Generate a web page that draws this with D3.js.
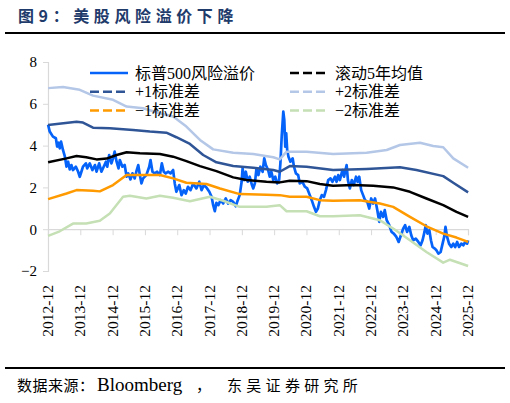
<!DOCTYPE html>
<html><head><meta charset="utf-8">
<script src="https://cdn.jsdelivr.net/npm/d3@7"></script>
<style>
html,body{margin:0;padding:0;background:#fff;}
svg{display:block;}
</style></head>
<body>
<svg id="c" width="510" height="403"></svg>
<script>
// ---- data (decimal year, value) ----
const xTickLabels = ["2012-12","2013-12","2014-12","2015-12","2016-12","2017-12","2018-12","2019-12","2020-12","2021-12","2022-12","2023-12","2024-12","2025-12"];
const yTicks = [-2,0,2,4,6,8];
const seriesNames = ["标普500风险溢价","滚动5年均值","+1标准差","+2标准差","\u22121标准差","\u22122标准差"];

const erp = [[2012.92,5.0],[2012.97,4.67],[2013.07,4.43],[2013.16,4.35],[2013.20,3.95],[2013.24,4.14],[2013.28,3.87],[2013.32,4.19],[2013.38,3.79],[2013.44,3.47],[2013.49,2.99],[2013.54,3.23],[2013.59,2.86],[2013.64,3.07],[2013.69,2.83],[2013.78,2.99],[2013.85,2.75],[2013.90,2.51],[2013.95,2.75],[2014.00,2.99],[2014.09,3.15],[2014.13,2.91],[2014.21,3.15],[2014.29,2.83],[2014.37,3.07],[2014.42,2.75],[2014.50,3.15],[2014.57,2.75],[2014.64,2.99],[2014.71,3.23],[2014.75,2.99],[2014.81,3.55],[2014.88,3.15],[2014.93,3.39],[2014.98,3.71],[2015.04,3.23],[2015.10,2.91],[2015.14,3.31],[2015.22,2.99],[2015.29,3.07],[2015.35,2.51],[2015.40,2.67],[2015.47,2.38],[2015.53,2.67],[2015.60,2.43],[2015.65,2.75],[2015.71,3.07],[2015.76,2.59],[2015.81,2.19],[2015.86,2.43],[2015.96,2.59],[2016.05,2.99],[2016.09,3.31],[2016.15,2.75],[2016.22,2.67],[2016.29,2.75],[2016.38,2.59],[2016.44,3.15],[2016.50,2.75],[2016.56,2.67],[2016.64,2.75],[2016.71,2.67],[2016.79,2.83],[2016.84,2.19],[2016.89,1.79],[2016.98,2.11],[2017.05,1.63],[2017.12,1.87],[2017.18,1.71],[2017.25,2.03],[2017.33,1.87],[2017.41,2.19],[2017.51,1.95],[2017.60,2.27],[2017.67,1.87],[2017.74,2.11],[2017.82,2.0],[2017.91,1.79],[2017.98,1.55],[2018.03,1.15],[2018.08,0.86],[2018.13,1.26],[2018.19,1.15],[2018.26,1.39],[2018.34,1.23],[2018.42,1.47],[2018.49,1.23],[2018.57,1.39],[2018.65,1.31],[2018.73,1.1],[2018.79,1.39],[2018.85,1.63],[2018.91,2.27],[2018.94,2.91],[2018.99,2.35],[2019.04,2.75],[2019.10,2.27],[2019.16,2.51],[2019.23,2.11],[2019.27,1.95],[2019.32,2.19],[2019.37,2.91],[2019.43,2.59],[2019.49,2.99],[2019.56,2.75],[2019.61,3.39],[2019.66,3.07],[2019.73,2.83],[2019.78,2.51],[2019.83,2.75],[2019.89,2.35],[2019.95,2.51],[2020.01,2.19],[2020.07,2.35],[2020.11,3.15],[2020.15,4.43],[2020.20,5.63],[2020.23,5.23],[2020.26,3.95],[2020.29,4.59],[2020.32,3.79],[2020.36,3.47],[2020.42,3.23],[2020.49,3.39],[2020.53,2.99],[2020.59,2.67],[2020.66,2.59],[2020.71,2.19],[2020.79,2.27],[2020.87,2.03],[2020.94,1.95],[2021.02,1.63],[2021.08,1.39],[2021.15,1.07],[2021.21,0.83],[2021.27,0.99],[2021.33,1.39],[2021.39,1.63],[2021.46,1.55],[2021.52,1.87],[2021.59,2.35],[2021.66,2.43],[2021.72,2.27],[2021.80,2.51],[2021.85,2.27],[2021.90,2.59],[2021.95,2.35],[2022.03,2.83],[2022.08,2.51],[2022.16,3.07],[2022.20,2.35],[2022.26,1.95],[2022.32,2.35],[2022.38,2.11],[2022.45,2.51],[2022.50,2.27],[2022.55,2.51],[2022.61,1.87],[2022.67,1.63],[2022.73,1.39],[2022.80,1.31],[2022.86,0.99],[2022.92,1.47],[2022.98,1.23],[2023.04,1.47],[2023.11,0.91],[2023.17,0.35],[2023.22,0.83],[2023.29,0.59],[2023.34,0.91],[2023.40,0.43],[2023.48,0.19],[2023.55,-0.13],[2023.62,-0.21],[2023.70,-0.37],[2023.77,-0.61],[2023.84,-0.29],[2023.91,0.03],[2023.97,0.19],[2024.03,-0.13],[2024.10,0.11],[2024.16,-0.29],[2024.22,-0.53],[2024.30,-0.45],[2024.38,-0.61],[2024.45,-0.77],[2024.51,-0.53],[2024.57,-0.13],[2024.61,0.19],[2024.66,-0.21],[2024.72,-0.05],[2024.77,-0.53],[2024.82,-0.85],[2024.89,-0.93],[2024.94,-1.01],[2025.00,-1.17],[2025.07,-1.09],[2025.13,-0.69],[2025.18,-0.37],[2025.22,0.11],[2025.27,-0.37],[2025.33,-0.69],[2025.40,-0.85],[2025.46,-0.69],[2025.52,-0.85],[2025.58,-0.61],[2025.64,-0.85],[2025.71,-0.69],[2025.77,-0.77],[2025.83,-0.61],[2025.89,-0.69],[2025.92,-0.53]];

const mean5y = [[2012.92,3.2],[2013.49,3.39],[2013.80,3.5],[2014.10,3.44],[2014.42,3.34],[2014.73,3.38],[2015.04,3.55],[2015.35,3.68],[2015.76,3.63],[2016.38,3.6],[2016.79,3.47],[2017.20,3.26],[2017.62,3.02],[2018.13,2.78],[2018.65,2.48],[2019.06,2.35],[2019.68,2.27],[2020.09,2.24],[2020.40,2.32],[2020.92,2.3],[2021.33,2.16],[2021.74,2.08],[2022.36,2.11],[2022.98,2.08],[2023.60,2.0],[2024.12,1.79],[2024.63,1.47],[2025.15,1.15],[2025.56,0.83],[2025.92,0.59]];

const plus1 = [[2012.92,4.99],[2013.80,5.14],[2014.00,5.1],[2014.31,4.86],[2014.83,4.83],[2015.55,4.75],[2016.07,4.67],[2016.58,4.62],[2016.89,4.4],[2017.31,4.08],[2017.72,3.55],[2018.13,3.2],[2018.65,3.02],[2019.27,2.94],[2019.89,2.83],[2020.09,2.75],[2020.40,3.02],[2020.92,2.99],[2021.74,2.83],[2022.78,2.88],[2023.81,2.96],[2024.32,2.83],[2025.15,2.54],[2025.46,2.22],[2025.92,1.76]];

const plus2 = [[2012.92,6.75],[2013.38,6.8],[2013.90,6.67],[2014.31,6.39],[2014.93,6.19],[2015.35,5.87],[2015.86,5.79],[2016.38,5.55],[2016.79,5.39],[2017.20,4.91],[2017.62,4.27],[2018.03,3.82],[2018.65,3.66],[2019.27,3.6],[2019.89,3.44],[2020.09,3.34],[2020.30,3.71],[2020.92,3.71],[2021.74,3.6],[2022.78,3.66],[2023.40,3.79],[2023.81,4.03],[2024.43,4.14],[2024.84,3.98],[2025.15,3.92],[2025.46,3.39],[2025.92,2.94]];

const minus1 = [[2012.92,1.44],[2013.49,1.71],[2013.80,1.87],[2014.31,1.84],[2014.52,1.81],[2014.93,2.11],[2015.35,2.59],[2015.76,2.59],[2016.38,2.59],[2016.79,2.43],[2017.20,2.22],[2017.82,2.16],[2018.24,1.95],[2018.85,1.68],[2019.68,1.65],[2020.09,1.63],[2020.40,1.55],[2020.92,1.55],[2021.33,1.39],[2021.74,1.36],[2022.57,1.39],[2023.19,1.23],[2023.60,1.07],[2024.12,0.59],[2024.63,0.14],[2025.15,-0.21],[2025.56,-0.4],[2025.92,-0.61]];

const minus2 = [[2012.92,-0.32],[2013.28,-0.1],[2013.69,0.27],[2014.10,0.27],[2014.52,0.4],[2014.83,0.75],[2015.24,1.55],[2015.45,1.6],[2015.96,1.47],[2016.38,1.6],[2016.79,1.5],[2017.31,1.34],[2017.93,1.55],[2018.34,1.36],[2018.85,1.07],[2019.68,1.07],[2020.09,1.15],[2020.30,0.86],[2020.92,0.86],[2021.33,0.62],[2021.74,0.62],[2022.57,0.67],[2023.19,0.43],[2023.60,0.03],[2024.12,-0.53],[2024.63,-1.09],[2025.15,-1.6],[2025.36,-1.46],[2025.92,-1.76]];

// ---- drawing ----
const svg = d3.select("#c");
const serif = "'Liberation Serif','Times New Roman','Noto Sans CJK SC',serif";
const colors = ["#0563FA","#000000","#2F5597","#B4C7E7","#FF9A00","#C5E0B4"];
const allSeries = [erp, mean5y, plus1, plus2, minus1, minus2];

// title
svg.append("text").attr("x",18).attr("y",22)
  .attr("font-family","'Noto Sans CJK SC',sans-serif").attr("font-weight","bold")
  .attr("font-size",16).attr("letter-spacing",4.6).attr("fill","#1F3B6B")
  .text("图9：美股风险溢价下降");
svg.append("line").attr("x1",5).attr("x2",505).attr("y1",33).attr("y2",33)
  .attr("stroke","#000").attr("stroke-width",2);
svg.append("line").attr("x1",5).attr("x2",505).attr("y1",368).attr("y2",368)
  .attr("stroke","#000").attr("stroke-width",2);

// source note
const src = svg.append("g").attr("font-family",serif).attr("fill","#000");
src.append("text").attr("x",17).attr("y",391).attr("font-size",15).attr("letter-spacing",0.5).text("数据来源：");
src.append("text").attr("x",97).attr("y",391).attr("font-size",19).text("Bloomberg");
src.append("text").attr("x",196).attr("y",391).attr("font-size",15).text("，");
src.append("text").attr("x",227).attr("y",391).attr("font-size",15).attr("letter-spacing",4.3).text("东吴证券研究所");

const x0 = 2012 + 11/12;
const x = d3.scaleLinear().domain([x0, x0 + 13]).range([48, 468]);
const y = d3.scaleLinear().domain([-2, 8]).range([271, 62]);

// y axis
const ya = svg.append("g").attr("transform","translate(48,0)")
  .call(d3.axisLeft(y).tickValues(yTicks).tickSize(5).tickPadding(6).tickFormat(d3.format("d")));
ya.select(".domain").attr("stroke","#D9D9D9").attr("stroke-width",1.2);
ya.selectAll(".tick line").attr("stroke","#D9D9D9");
ya.selectAll(".tick text").attr("font-family",serif).attr("font-size",15).attr("fill","#000");

// x axis at zero
const xTickVals = xTickLabels.map((d,i)=>x0+i);
const xa = svg.append("g").attr("transform",`translate(0,${y(0)})`)
  .call(d3.axisBottom(x).tickValues(xTickVals).tickSize(6).tickFormat(""));
xa.select(".domain").attr("stroke","#D9D9D9").attr("stroke-width",1.2);
xa.selectAll(".tick line").attr("stroke","#D9D9D9");

// x labels at bottom, rotated
svg.append("g").selectAll("text").data(xTickLabels).enter().append("text")
  .attr("transform",(d,i)=>`translate(${x(xTickVals[i])+5},285) rotate(-90)`)
  .attr("text-anchor","end").attr("font-family",serif).attr("font-size",15.5).attr("fill","#000")
  .text(d=>d);

// lines
const line = d3.line().x(d=>x(d[0])).y(d=>y(d[1]));
allSeries.forEach((s,i)=>{
  svg.append("path").datum(s).attr("d",line).attr("fill","none")
    .attr("stroke",colors[i]).attr("stroke-width",i===0?2.7:2.5).attr("stroke-linejoin","round");
});

// legend
const legX = [90, 290], legY = [73, 91.7, 110.4];
seriesNames.forEach((n,i)=>{
  const col = i%2, row = Math.floor(i/2);
  const g = svg.append("g").attr("transform",`translate(${legX[col]},${legY[row]})`);
  g.append("line").attr("x1",0).attr("x2",38).attr("y1",0).attr("y2",0)
    .attr("stroke",colors[i]).attr("stroke-width",2.5)
    .attr("stroke-dasharray", i===0 ? null : "9,4");
  g.append("text").attr("x",45).attr("y",5.5).attr("font-family",serif)
    .attr("font-size",16).attr("fill","#000").text(n);
});
</script>
</body></html>
